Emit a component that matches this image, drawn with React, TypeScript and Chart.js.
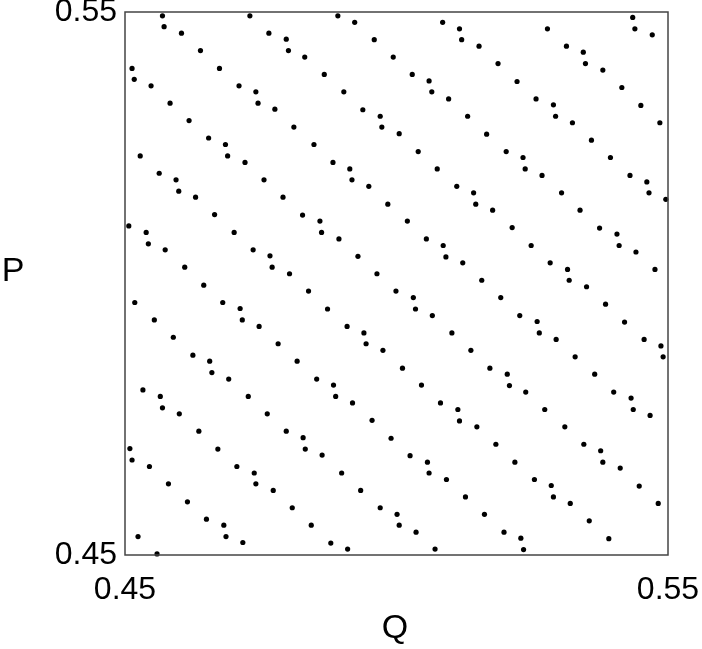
import { useEffect, useRef } from "react";
import { Chart, registerables } from "chart.js";

Chart.register(...registerables);

// Q coordinate of each orbit point
const qValues = [
  0.4569, 0.4572, 0.4604, 0.4639, 0.4674, 0.4710, 0.4741, 0.4745, 0.4776, 0.4811,
  0.4513, 0.4517, 0.4548, 0.4583, 0.4618, 0.4654, 0.4685, 0.4730, 0.4765, 0.4797,
  0.4801, 0.4892, 0.4923, 0.4959, 0.4831, 0.4994, 0.4867, 0.5029, 0.5060, 0.4903,
  0.5065, 0.5096, 0.4938, 0.4970, 0.4973, 0.5005, 0.5131, 0.4848, 0.5085, 0.5116,
  0.5120, 0.5152, 0.5435, 0.5439, 0.5471, 0.5278, 0.5313, 0.5344, 0.5348, 0.5380,
  0.5415, 0.5450, 0.5485, 0.5187, 0.5222, 0.5257, 0.5289, 0.5293, 0.5324, 0.5359,
  0.5166, 0.4689, 0.4721, 0.4756, 0.4791, 0.4827, 0.4528, 0.4563, 0.4594, 0.4599,
  0.4630, 0.4665, 0.4701, 0.4736, 0.4767, 0.4771, 0.4803, 0.4507, 0.4539, 0.4543,
  0.4574, 0.4610, 0.5040, 0.5075, 0.5111, 0.5142, 0.5146, 0.4883, 0.4914, 0.4918,
  0.4949, 0.4984, 0.5020, 0.5055, 0.5086, 0.5091, 0.5122, 0.5157, 0.4859, 0.4862,
  0.4894, 0.4929, 0.4964, 0.5202, 0.5233, 0.5237, 0.5268, 0.5304, 0.5338, 0.5374,
  0.5406, 0.5410, 0.5441, 0.5476, 0.5394, 0.5430, 0.5461, 0.5465, 0.5496, 0.5177,
  0.5213, 0.5248, 0.5283, 0.5315, 0.5318, 0.4645, 0.4518, 0.4554, 0.4589, 0.4625,
  0.4656, 0.4660, 0.4691, 0.4727, 0.4762, 0.4680, 0.4712, 0.4716, 0.4747, 0.4782,
  0.4817, 0.4533, 0.4565, 0.4569, 0.4600, 0.4838, 0.4873, 0.4909, 0.4940, 0.4944,
  0.4975, 0.5011, 0.5046, 0.5081, 0.5113, 0.4999, 0.5031, 0.5035, 0.5066, 0.5102,
  0.5137, 0.4853, 0.4884, 0.4888, 0.4919, 0.5350, 0.5385, 0.5420, 0.5456, 0.5487,
  0.5491, 0.5192, 0.5227, 0.5259, 0.5263, 0.5294, 0.5329, 0.5365, 0.5400, 0.5432,
  0.5436, 0.5467, 0.5172, 0.5204, 0.5208, 0.5238, 0.5273, 0.4636, 0.4671, 0.4706,
  0.4738, 0.4741, 0.4773, 0.4808, 0.4797, 0.4509, 0.4513, 0.4545, 0.4580, 0.4615,
  0.4650, 0.4682, 0.4686, 0.4717, 0.4524, 0.4559, 0.4955, 0.4990, 0.5025, 0.5057,
  0.5060, 0.5092, 0.5127, 0.5116, 0.5148, 0.4828, 0.4832, 0.4863, 0.4899, 0.4934,
  0.4970, 0.5001, 0.5005, 0.5036, 0.5071, 0.4843, 0.4879, 0.4910, 0.5310, 0.5183,
  0.5218, 0.5254, 0.5285, 0.5289, 0.5320, 0.5355, 0.5391, 0.5345, 0.5376, 0.5380,
  0.5412, 0.5447, 0.5482, 0.5162, 0.5198, 0.5229, 0.5234,
];

// P coordinate of each orbit point
const pValues = [
  0.5493, 0.5473, 0.5461, 0.5429, 0.5396, 0.5364, 0.5353, 0.5332, 0.5321, 0.5288,
  0.5396, 0.5376, 0.5364, 0.5332, 0.5300, 0.5268, 0.5256, 0.5493, 0.5461, 0.5450,
  0.5429, 0.5493, 0.5481, 0.5449, 0.5417, 0.5417, 0.5385, 0.5385, 0.5373, 0.5353,
  0.5353, 0.5340, 0.5320, 0.5308, 0.5288, 0.5276, 0.5308, 0.5256, 0.5481, 0.5469,
  0.5449, 0.5437, 0.5490, 0.5469, 0.5458, 0.5469, 0.5437, 0.5426, 0.5405, 0.5393,
  0.5361, 0.5328, 0.5296, 0.5405, 0.5372, 0.5340, 0.5329, 0.5308, 0.5296, 0.5264,
  0.5275, 0.5235, 0.5223, 0.5191, 0.5159, 0.5126, 0.5235, 0.5203, 0.5191, 0.5170,
  0.5159, 0.5127, 0.5094, 0.5062, 0.5051, 0.5030, 0.5018, 0.5106, 0.5094, 0.5073,
  0.5062, 0.5030, 0.5243, 0.5211, 0.5179, 0.5167, 0.5146, 0.5223, 0.5211, 0.5191,
  0.5179, 0.5146, 0.5115, 0.5082, 0.5070, 0.5049, 0.5038, 0.5006, 0.5115, 0.5094,
  0.5082, 0.5050, 0.5018, 0.5243, 0.5232, 0.5211, 0.5199, 0.5167, 0.5135, 0.5102,
  0.5091, 0.5070, 0.5058, 0.5026, 0.5232, 0.5199, 0.5187, 0.5167, 0.5155, 0.5135,
  0.5103, 0.5070, 0.5038, 0.5026, 0.5006, 0.4997, 0.4965, 0.4933, 0.4901, 0.4868,
  0.4857, 0.4836, 0.4824, 0.4792, 0.4760, 0.4965, 0.4954, 0.4933, 0.4921, 0.4889,
  0.4857, 0.4804, 0.4792, 0.4771, 0.4760, 0.4986, 0.4953, 0.4921, 0.4909, 0.4889,
  0.4877, 0.4844, 0.4813, 0.4780, 0.4768, 0.4986, 0.4974, 0.4953, 0.4941, 0.4909,
  0.4877, 0.4824, 0.4813, 0.4792, 0.4780, 0.4994, 0.4962, 0.4929, 0.4897, 0.4885,
  0.4865, 0.4974, 0.4941, 0.4930, 0.4909, 0.4897, 0.4865, 0.4833, 0.4800, 0.4789,
  0.4768, 0.4757, 0.4844, 0.4833, 0.4812, 0.4800, 0.4768, 0.4728, 0.4695, 0.4663,
  0.4651, 0.4631, 0.4619, 0.4587, 0.4728, 0.4696, 0.4675, 0.4663, 0.4631, 0.4598,
  0.4566, 0.4555, 0.4534, 0.4523, 0.4534, 0.4502, 0.4748, 0.4715, 0.4683, 0.4671,
  0.4651, 0.4639, 0.4607, 0.4747, 0.4736, 0.4716, 0.4695, 0.4684, 0.4651, 0.4619,
  0.4587, 0.4575, 0.4555, 0.4542, 0.4511, 0.4555, 0.4522, 0.4511, 0.4736, 0.4704,
  0.4671, 0.4639, 0.4628, 0.4607, 0.4595, 0.4563, 0.4530, 0.4704, 0.4692, 0.4671,
  0.4660, 0.4627, 0.4595, 0.4575, 0.4542, 0.4531, 0.4510,
];

const xTickValues = [0.45, 0.55];
const yTickValues = [0.45, 0.55];
const xTitle = "Q";
const yTitle = "P";

const FONT = '"Liberation Sans", Arial, Helvetica, sans-serif';

export default function App() {
  const ref = useRef<HTMLCanvasElement>(null);

  useEffect(() => {
    if (!ref.current) return;
    const points = qValues.map((q, i) => ({ x: q, y: pValues[i] }));

    const framePlugin = {
      id: "frameAndTitles",
      afterDraw(chart: any) {
        const { ctx, chartArea: a } = chart;
        ctx.save();
        ctx.strokeStyle = "#444";
        ctx.lineWidth = 1.5;
        ctx.strokeRect(a.left, a.top, a.right - a.left, a.bottom - a.top);
        ctx.fillStyle = "#000";
        ctx.font = `34px ${FONT}`;
        ctx.textAlign = "center";
        ctx.textBaseline = "middle";
        ctx.fillText(yTitle, 13, 272);
        ctx.fillText(xTitle, 395, 629);
        ctx.restore();
      },
    };

    const chart = new Chart(ref.current, {
      type: "scatter",
      data: {
        datasets: [
          {
            data: points,
            pointRadius: 2.6,
            pointHoverRadius: 2.6,
            pointBackgroundColor: "#000",
            pointBorderWidth: 0,
            clip: false as any,
          },
        ],
      },
      options: {
        responsive: false,
        animation: false,
        events: [],
        layout: { padding: { left: 0, top: 12, right: 34, bottom: 0 } },
        plugins: { legend: { display: false }, tooltip: { enabled: false } },
        scales: {
          x: {
            type: "linear",
            min: 0.45,
            max: 0.55,
            afterFit(s: any) {
              s.height = 94;
              s.paddingLeft = 0;
              s.paddingRight = 0;
            },
            afterBuildTicks(s: any) {
              s.ticks = xTickValues.map((v) => ({ value: v }));
            },
            grid: { display: false, drawTicks: false },
            border: { display: false },
            ticks: {
              padding: 16,
              color: "#000",
              autoSkip: false,
              maxRotation: 0,
              font: { family: FONT, size: 32 },
              callback: (v: any) => Number(v).toFixed(2),
            },
          },
          y: {
            type: "linear",
            min: 0.45,
            max: 0.55,
            afterFit(s: any) {
              s.width = 125;
              s.paddingTop = 0;
              s.paddingBottom = 0;
            },
            afterBuildTicks(s: any) {
              s.ticks = yTickValues.map((v) => ({ value: v }));
            },
            grid: { display: false, drawTicks: false },
            border: { display: false },
            ticks: {
              padding: 8,
              color: "#000",
              autoSkip: false,
              font: { family: FONT, size: 32 },
              callback: (v: any) => Number(v).toFixed(2),
            },
          },
        },
      },
      plugins: [framePlugin],
    });

    return () => chart.destroy();
  }, []);

  return (
    <div
      style={{
        position: "fixed",
        left: 0,
        top: 0,
        width: 702,
        height: 649,
        background: "#fff",
      }}
    >
      <canvas ref={ref} width={702} height={649} style={{ display: "block" }} />
    </div>
  );
}
